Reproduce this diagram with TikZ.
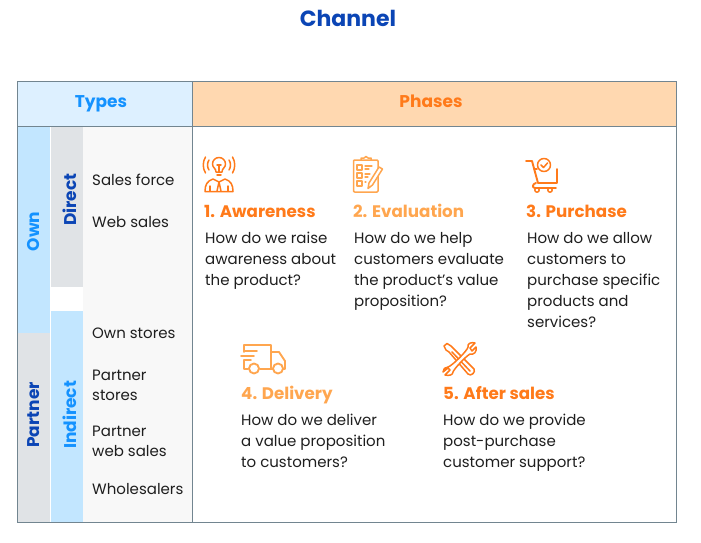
\documentclass[tikz,border=0pt]{standalone}
\usepackage{fontspec}
\setmainfont{Poppins}
\usetikzlibrary{positioning}
\definecolor{navy}{HTML}{0B45B5}
\definecolor{sky}{HTML}{1492FF}
\definecolor{paleblue}{HTML}{C2E6FF}
\definecolor{headblue}{HTML}{DDF0FF}
\definecolor{headorange}{HTML}{FFD8B0}
\definecolor{cellgray}{HTML}{E0E3E6}
\definecolor{cellwhite}{HTML}{F8F8F8}
\definecolor{rule}{HTML}{728590}
\definecolor{orange}{HTML}{FF7A1A}
\definecolor{lightorange}{HTML}{FFA64F}
\definecolor{ink}{HTML}{1E1E1E}
\tikzset{
  sidelabel/.style={rotate=90,anchor=base,inner sep=0pt,font=\fontsize{17}{17}\selectfont\bfseries},
  headlabel/.style={anchor=base,inner sep=0pt,font=\fontsize{17}{17}\selectfont\bfseries},
  itemlabel/.style={anchor=base west,inner sep=0pt,text=ink,font=\fontsize{15}{21}\selectfont,align=left},
  phaselabel/.style={anchor=base west,inner sep=0pt,font=\fontsize{16.7}{17}\selectfont\bfseries},
  icon/.style={line width=1.5pt,line cap=round,line join=round},
}
\begin{document}
\begin{tikzpicture}[x=1pt,y=-1pt]
  \useasboundingbox (0,0) rectangle (701,543);
  \node[headlabel,font=\fontsize{22}{22}\selectfont\bfseries,text=navy] (title) at (348,26.5) {Channel};
  % table cells
  \fill[headblue] (18,82) rectangle (192,126);
  \fill[headorange] (192,82) rectangle (676,126);
  \fill[cellwhite] (83,126) rectangle (192,522);
  \fill[paleblue] (18,126) rectangle (50,333);
  \fill[cellgray] (18,333) rectangle (50,522);
  \fill[cellgray] (51,126) rectangle (83,287);
  \fill[paleblue] (51,311) rectangle (83,522);
  \draw[rule] (17.5,81.5) rectangle (676.5,522.5);
  \draw[rule] (17.5,126) -- (676.5,126);
  \draw[rule] (192.5,81.5) -- (192.5,522.5);
  % headers
  \node[headlabel,text=sky] (types) at (101,107) {Types};
  \node[headlabel,text=orange] (phases) at (431,107) {Phases};
  \node[sidelabel,text=sky] (own) at (39,231.5) {Own};
  \node[sidelabel,text=navy] (partner) at (39,415) {Partner};
  \node[sidelabel,text=navy] (direct) at (76,199.5) {Direct};
  \node[sidelabel,text=sky] (indirect) at (76,415) {Indirect};
  % types
  \node[itemlabel] (force) at (92,185) {Sales force};
  \node[itemlabel] (web) at (92,227) {Web sales};
  \node[itemlabel] (ownst) at (92,338) {Own stores};
  \node[itemlabel,font=\fontsize{15}{20}\selectfont] (partst) at (92,400) {Partner\\stores};
  \node[itemlabel,font=\fontsize{15}{20}\selectfont] (partweb) at (92,456) {Partner\\web sales};
  \node[itemlabel] (whole) at (92,494) {Wholesalers};
  % phases
  \node[phaselabel,text=orange] (aware) at (204,217) {1. Awareness};
  \node[phaselabel,text=lightorange] (eval) at (353,217) {2. Evaluation};
  \node[phaselabel,text=orange] (purch) at (526,217) {3. Purchase};
  \node[phaselabel,text=lightorange] (deliv) at (241,399) {4. Delivery};
  \node[phaselabel,text=orange] (after) at (443,399) {5. After sales};
  \node[itemlabel] (awaretxt) at (205,285) {How do we raise\\awareness about\\the product?};
  \node[itemlabel] (evaltxt) at (354,306) {How do we help\\customers evaluate\\the product's value\\proposition?};
  \node[itemlabel] (purchtxt) at (527,327) {How do we allow\\customers to\\purchase specific\\products and\\services?};
  \node[itemlabel] (delivtxt) at (241,467) {How do we deliver\\a value proposition\\to customers?};
  \node[itemlabel] (aftertxt) at (443,467) {How do we provide\\post-purchase\\customer support?};
  % bulb and person
  \begin{scope}[icon,orange]
    \draw (216,172) .. controls (216,168) and (212.5,168) .. (212.5,164) arc (180:360:6.5) .. controls (225.5,168) and (222,168) .. (222,172) -- cycle;
    \draw (217,175) -- (221,175);
    \draw (219,172) -- (219,165) (217,165) -- (221,165);
    \draw (209,160) .. controls (207,163) and (207,167) .. (209,170);
    \draw (205.5,157) .. controls (202.5,162) and (202.5,168) .. (205.5,173);
    \draw (229,160) .. controls (231,163) and (231,167) .. (229,170);
    \draw (232.5,157) .. controls (235.5,162) and (235.5,168) .. (232.5,173);
    \draw (205,191.5) .. controls (205,185) and (207,181) .. (213,179) -- (219,182) -- (225,179) .. controls (231,181) and (233,185) .. (233,191.5) -- cycle;
    \draw (219,182) -- (217,191) (219,182) -- (221,191);
    \draw (210,186) -- (210,191) (228,186) -- (228,191);
  \end{scope}
  % clipboard
  \begin{scope}[icon,lightorange]
    \draw[rounded corners=1pt] (353.5,160) rectangle (378,192);
    \draw (361,160) -- (361,158) -- (364,158) -- (366,156.5) -- (368,158) -- (371,158) -- (371,160);
    \draw[line width=1.1pt] (357,165) rectangle (362,170) (357,173) rectangle (362,178) (357,181) rectangle (362,186);
    \draw[line width=1.1pt] (365,166) -- (372,166) (365,169) -- (369,169) (365,174) -- (370,174) (365,177) -- (368,177) (365,182) -- (366,182);
    \draw[fill=white] (368,188.5) -- (369,183) -- (379,167) -- (382.5,169) -- (372.5,185) -- cycle;
  \end{scope}
  % cart
  \begin{scope}[icon,orange]
    \draw[line width=1.9pt] (526,161) -- (532,161) -- (538,183) -- (557,183) -- (557,169);
    \draw[line width=1.9pt] (536,183) .. controls (532,184) and (532,188) .. (535,188) -- (556,188);
    \draw (544,165) circle (6.5);
    \draw (541,165) -- (543.5,167.5) -- (547.5,163);
    \draw (537,190) circle (2.2) (550,190) circle (2.2);
    \draw (534,169) -- (537,169);
  \end{scope}
  % truck
  \begin{scope}[icon,lightorange,line width=1.9pt]
    \draw (244,352) -- (244,345) -- (271,345) -- (271,369) -- (260,369);
    \draw (248,369) -- (244,369) -- (244,360);
    \draw (241,356) -- (254,356) (244,351) -- (257,351) (244,360) -- (251,360);
    \draw (271,352) -- (279,352) -- (285,361) -- (285,369) -- (283,369);
    \draw (271,369) -- (273,369);
    \draw (254,368.5) circle (5) (278,368.5) circle (5);
  \end{scope}
  % wrench and screwdriver
  \begin{scope}[icon,orange]
    \draw (444,346) -- (447,343.5) -- (451,346) -- (470,365) -- (474,369) .. controls (476,372) and (471,377) .. (468,374) -- (449,352) -- (446,350) -- cycle;
    \draw (452,352) -- (470,371);
    \draw[fill=white] (448,367) .. controls (452,366) and (468,350) .. (468,347) .. controls (467,343) and (472,342) .. (475,343) -- (470,348) -- (472,351) -- (476,347) .. controls (477,352) and (474,355) .. (470,354) .. controls (465,357) and (454,369) .. (453,372) .. controls (453,375) and (449,376) .. (445,375) -- (450,370) -- (448,368) -- (443,372) .. controls (443,369) and (445,367) .. (448,367) -- cycle;
  \end{scope}
\end{tikzpicture}
\end{document}
